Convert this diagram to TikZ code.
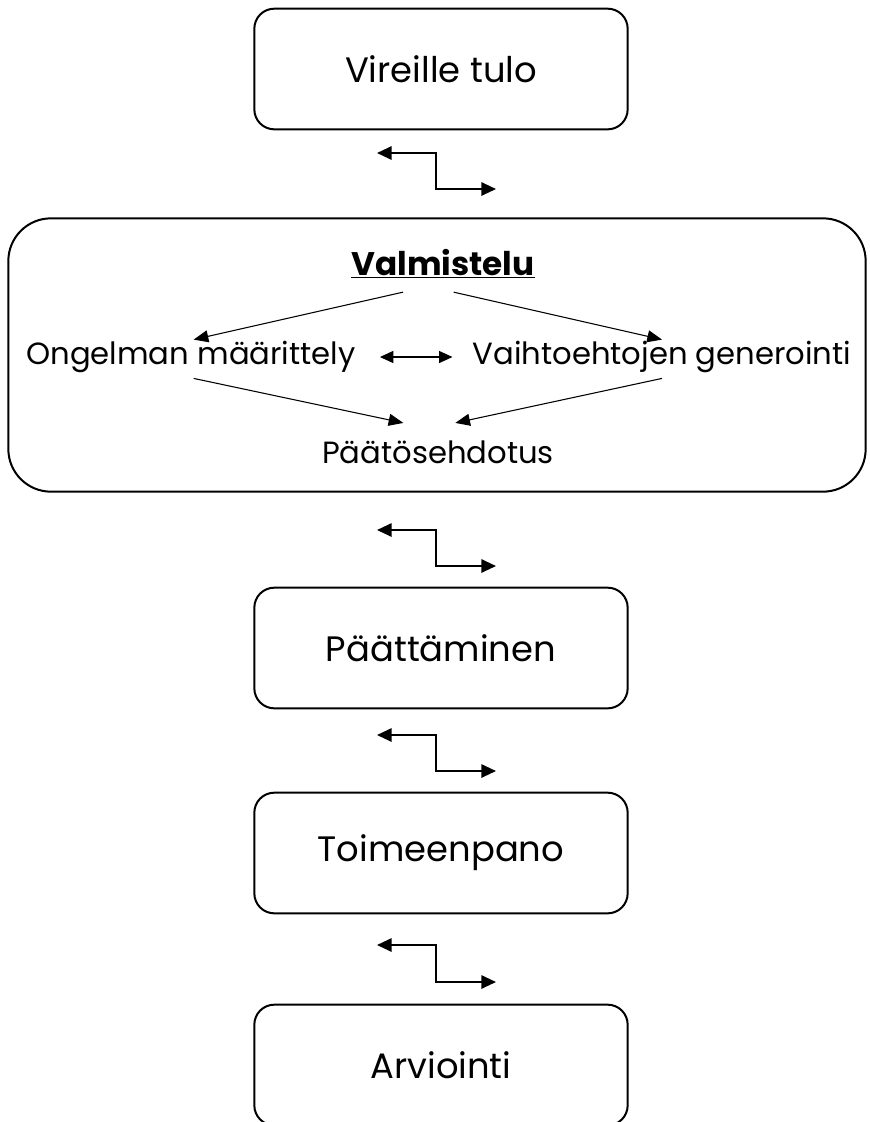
\documentclass[tikz,border=0pt]{standalone}
\usepackage{fontspec}
\setmainfont{Poppins}
\usetikzlibrary{arrows.meta}

\begin{document}
\begin{tikzpicture}[x=0.75pt,y=-0.75pt,
    stage/.style={draw,line width=1.5pt,rounded corners=15pt,
      minimum width=280pt,minimum height=90.5pt,
      font=\fontsize{26.5}{30}\selectfont},
    phase/.style={draw,line width=1.5pt,rounded corners=32pt,
      minimum width=643pt,minimum height=205pt},
    sub/.style={inner sep=4pt,font=\fontsize{23}{27}\selectfont},
    swap/.style={line width=1.5pt,
      {Triangle[length=11pt,width=10pt]}-{Triangle[length=11pt,width=10pt]}},
    flow/.style={line width=0.8pt,-{Triangle[length=11pt,width=9pt]}},
    both/.style={line width=0.8pt,
      {Triangle[length=10pt,width=9pt]}-{Triangle[length=10pt,width=9pt]}}]
    \useasboundingbox (0,0) rectangle (869,1122);
    % stages
    \node[stage](vir) at (441,69) {Vireille tulo};
    \node[phase](prep) at (437,355) {};
    \node[stage](dec) at (441,648) {Päättäminen};
    \node[stage](impl) at (441,853) {Toimeenpano};
    \node[stage](eval) at (441,1065) {Arviointi};
    % inside the preparation phase
    \node[sub,font=\fontsize{24.5}{28}\selectfont\bfseries](title) at (443,264) {\underline{Valmistelu}};
    \node[sub](prob) at (191,357) {Ongelman määrittely};
    \node[sub](alt) at (662,357) {Vaihtoehtojen generointi};
    \node[sub](prop) at (438,452) {Päätösehdotus};
    \draw[flow] ([xshift=-30pt,yshift=-6pt]title.south) -- ([xshift=2pt,yshift=-3pt]prob.north);
    \draw[flow] ([xshift=8pt,yshift=-6pt]title.south) -- ([yshift=-3pt]alt.north);
    \draw[both,shorten <=14pt,shorten >=11pt] (prob.east) -- (alt.west);
    \draw[flow] ([xshift=2pt]prob.south) -- ([xshift=-26pt,yshift=9pt]prop.north);
    \draw[flow] (alt.south) -- ([xshift=13pt,yshift=9pt]prop.north);
    % step arrows between the stages
    \foreach \n/\ya/\yb in {1/153/189, 2/530/566, 3/735/771, 4/945/982}{
      \coordinate (l\n) at (377,\ya);
      \coordinate (r\n) at (496,\yb);
      \draw[swap] (l\n) -- (436,\ya) |- (r\n);
    }
\end{tikzpicture}
\end{document}
